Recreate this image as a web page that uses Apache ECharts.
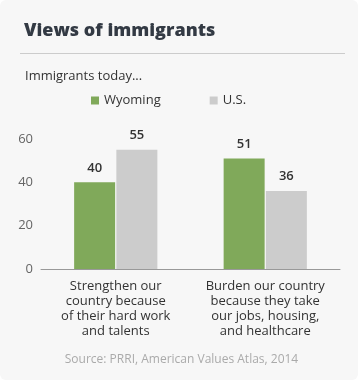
<!DOCTYPE html>
<html><head><meta charset="utf-8">
<script src="https://cdn.jsdelivr.net/npm/echarts@6/dist/echarts.min.js"></script>
<style>
html,body{margin:0;padding:0;background:#fff;}
#card{position:absolute;left:0;top:0;width:358px;height:380px;background:#f7f7f7;border-radius:6px;}
#chart{position:absolute;left:0;top:0;width:363px;height:383px;}
</style></head>
<body><div id="card"></div><div id="chart"></div>
<script>
const categories = ['Strengthen our\ncountry because\nof their hard work\nand talents', 'Burden our country\nbecause they take\nour jobs, housing,\nand healthcare'];
const wyoming = [40, 51];
const us = [55, 36];
const yTicks = [0, 20, 40, 60];

const font = '"Open Sans", sans-serif';
const chart = echarts.init(document.getElementById('chart'), null, {renderer: 'canvas'});
chart.setOption({
  backgroundColor: 'transparent',
  animation: false,
  textStyle: {fontFamily: font},
  title: [
    {text: 'Views of immigrants', left: 19, top: 17, textStyle: {fontFamily: font, fontSize: 18, fontWeight: 800, color: '#333a44'}},
    {text: 'Immigrants today...', left: 20, top: 65, textStyle: {fontFamily: font, fontSize: 13, fontWeight: 'normal', color: '#333'}},
    {text: 'Source: PRRI, American Values Atlas, 2014', left: 'center', top: 349, textStyle: {fontFamily: font, fontSize: 12, fontWeight: 'normal', color: '#aaa'}}
  ],
  graphic: [
    {type: 'line', shape: {x1: 20, y1: 53.5, x2: 345, y2: 53.5}, style: {stroke: '#ccc', lineWidth: 1}}
  ],
  legend: {
    left: 86, top: 89, itemWidth: 8, itemHeight: 8, itemGap: 49, icon: 'rect',
    textStyle: {fontFamily: font, fontSize: 13, color: '#333'},
    data: ['Wyoming', 'U.S.']
  },
  grid: {left: 41, right: 23, top: 139, bottom: 114, containLabel: false},
  xAxis: {
    type: 'category', data: categories,
    axisLine: {lineStyle: {color: '#999'}},
    axisTick: {show: false},
    axisLabel: {fontFamily: font, fontSize: 13, color: '#333', lineHeight: 15, margin: 10, interval: 0}
  },
  yAxis: {
    type: 'value', min: 0, max: 60, interval: 20,
    axisLine: {show: false}, axisTick: {show: false}, splitLine: {show: false},
    axisLabel: {fontFamily: font, fontSize: 13, color: '#666', margin: 8}
  },
  series: [
    {name: 'Wyoming', type: 'bar', data: wyoming, barWidth: 41, barGap: '3%', itemStyle: {color: '#80a95a'},
     label: {show: true, position: 'top', distance: 8, fontFamily: font, fontSize: 13, fontWeight: 600, color: '#333'}},
    {name: 'U.S.', type: 'bar', data: us, barWidth: 41, itemStyle: {color: '#cccccc'},
     label: {show: true, position: 'top', distance: 8, fontFamily: font, fontSize: 13, fontWeight: 600, color: '#333'}}
  ]
});
</script></body></html>
